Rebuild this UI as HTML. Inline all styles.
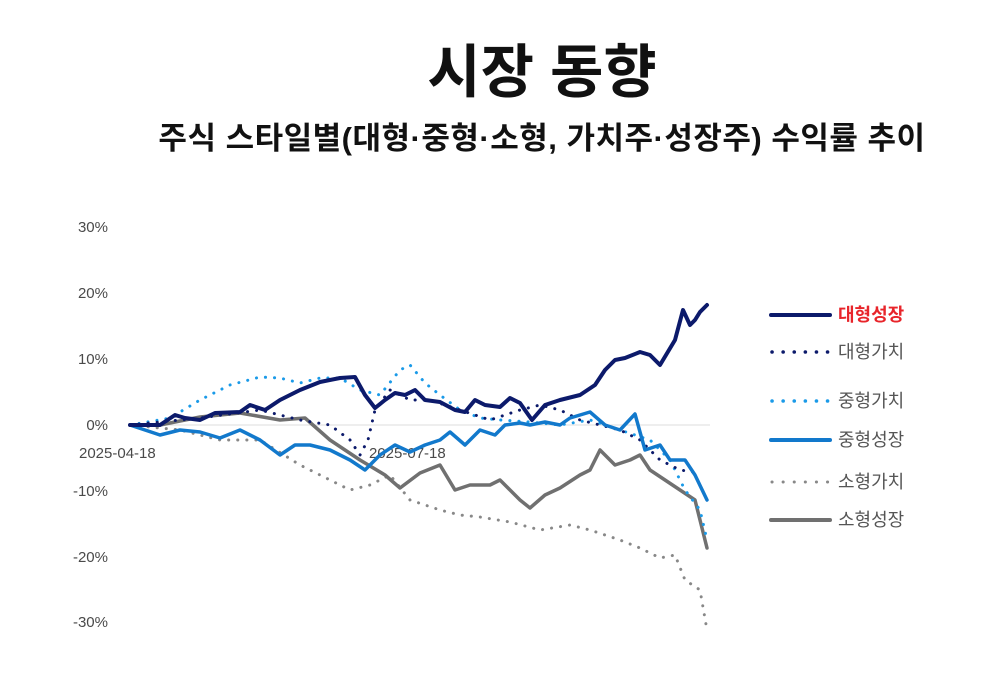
<!DOCTYPE html>
<html><head><meta charset="utf-8"><style>
body{margin:0;background:#fff;width:1008px;height:682px;overflow:hidden}
</style></head><body>
<svg width="1008" height="682" xmlns="http://www.w3.org/2000/svg" font-family="Liberation Sans, Noto Sans CJK KR, sans-serif">
<text x="542" y="92" text-anchor="middle" font-size="58" font-weight="bold" fill="#111">시장 동향</text>
<text x="542" y="149" text-anchor="middle" font-size="31" font-weight="bold" fill="#111" letter-spacing="0.5">주식 스타일별(대형·중형·소형, 가치주·성장주) 수익률 추이</text>
<g font-size="15" fill="#4a4a4a" text-anchor="end">
<text x="108" y="232">30%</text><text x="108" y="298">20%</text><text x="108" y="364">10%</text>
<text x="108" y="430">0%</text><text x="108" y="496">-10%</text><text x="108" y="562">-20%</text><text x="108" y="627">-30%</text>
</g>
<line x1="130" y1="425" x2="710" y2="425" stroke="#ddd" stroke-width="1"/>
<g font-size="15" fill="#4a4a4a"><text x="79" y="458">2025-04-18</text><text x="369" y="458">2025-07-18</text></g>
<g fill="none" stroke-linejoin="round" stroke-linecap="round">
<polyline stroke="#888" stroke-width="3" stroke-dasharray="0.1 9" points="130,425 180,430 220,440 260,440 300,465 330,480 350,490 370,485 390,475 410,500 440,510 460,515 480,517 510,522 540,530 570,525 590,530 620,540 640,548 660,558 675,555 685,580 700,590 707,630"/>
<polyline stroke="#707070" stroke-width="3.5" points="130,425 160,425 200,417 240,413 280,420 305,418 330,440 360,460 385,475 400,488 420,473 440,465 455,490 470,485 490,485 500,480 520,500 530,508 545,495 560,488 580,475 590,470 600,450 615,465 630,460 640,455 650,470 665,480 680,490 695,500 707,548"/>
<polyline stroke="#1a9ae8" stroke-width="3" stroke-dasharray="0.1 9" points="130,425 170,418 200,400 230,385 260,377 280,378 300,383 320,378 340,378 360,390 380,395 400,370 410,365 425,383 440,395 460,410 480,418 500,420 530,422 560,425 590,420 620,430 650,440 670,460 685,490 700,510 707,540"/>
<polyline stroke="#0c1a6b" stroke-width="3" stroke-dasharray="0.1 9" points="130,425 200,418 260,410 300,420 330,425 350,440 360,455 368,440 375,410 390,390 410,400 430,400 460,410 490,420 520,410 540,405 560,410 580,420 600,425 620,430 640,440 660,460 680,470 700,473"/>
<polyline stroke="#1279cc" stroke-width="3.5" points="130,425 160,435 180,430 200,432 220,438 240,430 260,440 280,455 295,445 310,445 330,450 350,460 365,470 380,455 395,445 410,452 425,445 440,440 450,432 465,445 480,430 495,435 505,425 520,423 530,425 545,422 560,425 570,418 590,412 605,425 620,430 635,414 645,450 660,445 670,460 685,460 695,475 707,500"/>
<polyline stroke="#0c1a6b" stroke-width="4" points="130,425 160,425 175,415 185,418 200,420 215,413 240,412 250,405 265,410 280,400 300,390 320,382 340,378 355,377 365,395 375,408 385,400 395,393 405,395 415,390 425,400 440,402 455,410 465,412 475,400 485,405 500,407 510,398 520,403 532,420 545,405 560,400 580,395 595,385 605,370 615,360 625,358 640,352 650,355 660,365 675,340 683,310 690,325 695,320 700,312 707,305"/>
</g>
<g stroke-linecap="round">
<line x1="771" y1="315" x2="830" y2="315" stroke="#0c1a6b" stroke-width="4"/>
<line x1="772" y1="352" x2="830" y2="352" stroke="#0c1a6b" stroke-width="3.5" stroke-dasharray="0.1 11"/>
<line x1="772" y1="401" x2="830" y2="401" stroke="#1a9ae8" stroke-width="3.5" stroke-dasharray="0.1 11"/>
<line x1="771" y1="440" x2="830" y2="440" stroke="#1279cc" stroke-width="4"/>
<line x1="772" y1="482" x2="830" y2="482" stroke="#888" stroke-width="3" stroke-dasharray="0.1 11"/>
<line x1="771" y1="520" x2="830" y2="520" stroke="#707070" stroke-width="4"/>
</g>
<g font-size="18" fill="#555">
<text x="838" y="321" fill="#e8242a" font-weight="bold">대형성장</text>
<text x="838" y="358">대형가치</text>
<text x="838" y="407">중형가치</text>
<text x="838" y="446">중형성장</text>
<text x="838" y="488">소형가치</text>
<text x="838" y="526">소형성장</text>
</g>
</svg>
</body></html>
